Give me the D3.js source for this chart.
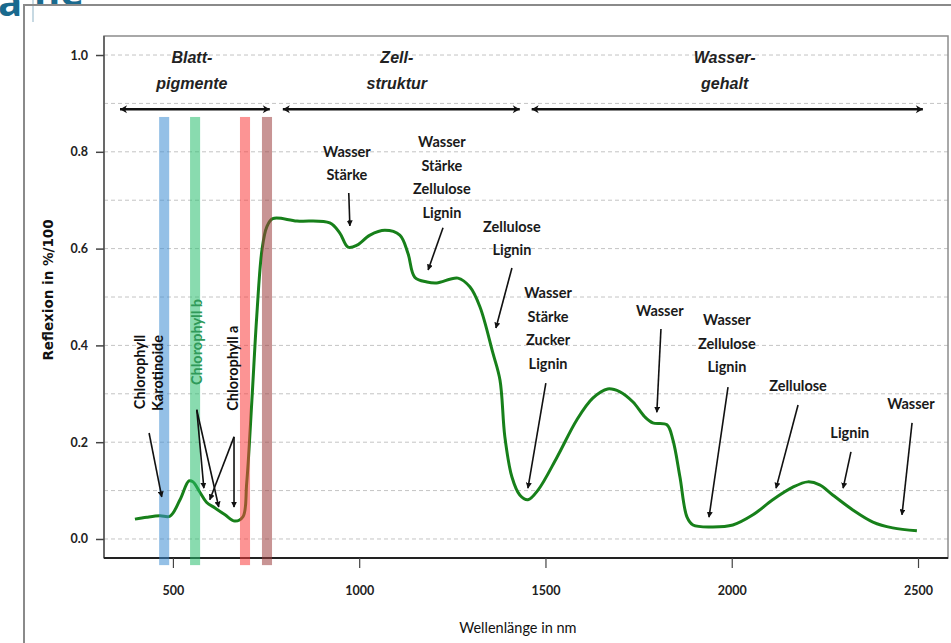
<!DOCTYPE html>
<html>
<head>
<meta charset="utf-8">
<script src="https://cdn.jsdelivr.net/npm/d3@7"></script>
<style>
    body { margin: 0; background: #fff; }
    svg { display: block; }
</style>
</head>
<body>
<div id="chart"></div>
<script>
// spectrum of a green leaf (nm, reflectance)
const wavelengths = [398, 430, 465, 492, 519, 543, 554, 572, 590, 613, 640, 666, 688, 698, 712, 725, 739, 752, 768,
    833, 921, 948, 970, 994, 1029, 1069, 1109, 1131, 1149, 1182, 1208, 1265, 1297, 1324, 1359, 1378, 1391, 1410,
    1431, 1453, 1480, 1531, 1584, 1627, 1667, 1700, 1735, 1767, 1788, 1826, 1842, 1861, 1880, 1896, 1949, 2003,
    2057, 2110, 2164, 2204, 2236, 2271, 2325, 2379, 2432, 2497];
const reflectance = [0.041, 0.045, 0.048, 0.047, 0.081, 0.12, 0.118, 0.097, 0.076, 0.064, 0.05, 0.037, 0.046, 0.115,
    0.287, 0.46, 0.597, 0.645, 0.662, 0.657, 0.653, 0.632, 0.603, 0.607, 0.628, 0.638, 0.628, 0.59, 0.541, 0.531,
    0.529, 0.539, 0.521, 0.48, 0.384, 0.328, 0.211, 0.128, 0.091, 0.081, 0.101, 0.169, 0.246, 0.291, 0.31, 0.304,
    0.283, 0.252, 0.24, 0.236, 0.205, 0.128, 0.045, 0.029, 0.025, 0.029, 0.05, 0.081, 0.107, 0.118, 0.112, 0.091,
    0.06, 0.035, 0.023, 0.017];

const yTicks = [0, 0.2, 0.4, 0.6, 0.8, 1.0];
const yGrid = [0, 0.1, 0.2, 0.3, 0.4, 0.5, 0.6, 0.7, 0.8, 0.9, 1.0];
const xTicks = [500, 1000, 1500, 2000, 2500];

// coloured absorption bands [from, to]
const bandRanges = [[463, 490], [546, 573], [680, 707], [739, 766]];
const bandColors = ["#3c8cd2", "#28be6e", "#fa3c3c", "#9b3c3c"];

// regions along the top
const regionRanges = [[358, 760], [795, 1431], [1463, 2513]];
const regionNames = [["Blatt-", "pigmente"], ["Zell-", "struktur"], ["Wasser-", "gehalt"]];
const regionCenters = [551, 1101, 1981];

// absorption annotations: text lines, label pos, arrow from/to
const noteTexts = [["Wasser", "Stärke"], ["Wasser", "Stärke", "Zellulose", "Lignin"], ["Zellulose", "Lignin"],
    ["Wasser", "Stärke", "Zucker", "Lignin"], ["Wasser"], ["Wasser", "Zellulose", "Lignin"], ["Zellulose"],
    ["Lignin"], ["Wasser"]];
const notePos = [[967, 0.80], [1222, 0.82], [1410, 0.645], [1507, 0.508], [1807, 0.471], [1987, 0.452],
    [2178, 0.316], [2317, 0.219], [2481, 0.279]];
const noteArrows = [[[972, 0.715], [975, 0.647]], [[1225, 0.643], [1185, 0.556]], [[1410, 0.56], [1367, 0.436]],
    [[1501, 0.322], [1453, 0.105]], [[1810, 0.434], [1799, 0.262]], [[1990, 0.314], [1939, 0.045]],
    [[2178, 0.277], [2119, 0.105]], [[2320, 0.18], [2299, 0.105]], [[2484, 0.24], [2457, 0.05]]];

// pigment labels (vertical text)
const pigmentTexts = ["Chlorophyll", "Karotinoide", "Chlorophyll b", "Chlorophyll a"];
const pigmentPos = [[411, 0.345], [460, 0.343], [564, 0.407], [661, 0.353]];
const pigmentColors = ["#111", "#111", "#2f9a5a", "#111"];
const pigmentArrows = [[[436, 0.219], [470, 0.087]], [[564, 0.267], [583, 0.105]], [[564, 0.267], [623, 0.066]],
    [[664, 0.211], [599, 0.081]], [[664, 0.211], [664, 0.066]]];

const W = 951, H = 643;
const margin = { top: 36, right: 3, bottom: 85, left: 104 },
    width = W - margin.left - margin.right,
    height = H - margin.top - margin.bottom;

let svg = d3.select("#chart")
    .append("svg")
    .attr("width", W)
    .attr("height", H);

// cropped page frame and header left over from the slide
svg.append("text")
    .attr("x", -2).attr("y", 16)
    .style("font", "bold 40px 'Open Sans'")
    .style("fill", "#1a6a8e")
    .text("a");
svg.append("text")
    .attr("x", 34).attr("y", 6)
    .style("font", "bold 40px 'Open Sans'")
    .style("fill", "#1a6a8e")
    .text("ne");
svg.append("line").attr("x1", 33).attr("x2", 33).attr("y1", 0).attr("y2", 22)
    .style("stroke", "#8fb3c6").style("stroke-width", 1);
svg.append("path")
    .attr("d", "M24,643 V5 H951")
    .style("fill", "none").style("stroke", "#8a8a8a").style("stroke-width", 2);

let defs = svg.append("defs");
defs.append("marker")
    .attr("id", "head")
    .attr("viewBox", "0 0 10 10")
    .attr("refX", 9).attr("refY", 5)
    .attr("markerWidth", 6).attr("markerHeight", 6)
    .attr("markerUnits", "userSpaceOnUse")
    .attr("orient", "auto")
    .append("path").attr("d", "M0,0 L10,5 L0,10 Z").style("fill", "#111");
defs.append("marker")
    .attr("id", "chev")
    .attr("viewBox", "0 0 10 10")
    .attr("refX", 9).attr("refY", 5)
    .attr("markerWidth", 10).attr("markerHeight", 10)
    .attr("markerUnits", "userSpaceOnUse")
    .attr("orient", "auto-start-reverse")
    .append("path").attr("d", "M2,1 L9,5 L2,9 L4,5 Z").style("fill", "#111");

let group = svg.append("g")
    .attr("transform", "translate(" + margin.left + "," + margin.top + ")");

var x = d3.scaleLinear().domain([315, 2580.5]).range([0, width]);
var y = d3.scaleLinear().domain([-0.0393, 1.0393]).range([height, 0]);

// dashed grid
group.selectAll(".grid")
    .data(yGrid)
    .join("line")
    .attr("class", "grid")
    .attr("x1", 0).attr("x2", width)
    .attr("y1", d => y(d)).attr("y2", d => y(d))
    .style("stroke", "#c4c4c4")
    .style("stroke-dasharray", "4,3");

// plot frame
group.append("rect")
    .attr("width", width).attr("height", height)
    .style("fill", "none").style("stroke", "#8c8c8c").style("stroke-width", 1.5);

const yAxis = d3.axisLeft(y).tickValues(yTicks).tickSize(8).tickPadding(8).tickFormat(d3.format(".1f"));
const xAxis = d3.axisBottom(x).tickValues(xTicks).tickSize(10).tickPadding(18).tickFormat(d3.format("d"));

let yDisplay = group.append("g").attr("class", "axis y-axis").call(yAxis);
let xDisplay = group.append("g").attr("class", "axis x-axis")
    .attr("transform", `translate(0, ${height})`).call(xAxis);

yDisplay.select(".domain").attr("d", `M0,0V${height}`).style("stroke", "#555").style("stroke-width", 1.5);
xDisplay.select(".domain").attr("d", `M0,0H${width}`).style("stroke", "#222").style("stroke-width", 2);
yDisplay.selectAll(".tick line").style("stroke", "#444").style("stroke-width", 1.5);
xDisplay.selectAll(".tick line").style("stroke", "#444").style("stroke-width", 1.2);
group.selectAll(".axis text")
    .style("font-family", "Lato, 'Open Sans', sans-serif")
    .style("font-weight", "bold")
    .style("font-size", "12.5px")
    .style("fill", "#222");

// the spectrum
let line = d3.line()
    .x((d, i) => x(wavelengths[i]))
    .y(d => y(d))
    .curve(d3.curveCatmullRom.alpha(0.5));

group.append("path")
    .datum(reflectance)
    .attr("d", line)
    .style("fill", "none")
    .style("stroke", "#17801a")
    .style("stroke-width", 3)
    .style("stroke-linejoin", "round");

// transparent bands over the curve
group.selectAll(".band")
    .data(bandRanges)
    .join("rect")
    .attr("class", "band")
    .attr("x", d => x(d[0]))
    .attr("width", d => x(d[1]) - x(d[0]))
    .attr("y", y(0.872))
    .attr("height", y(-0.054) - y(0.872))
    .style("fill", (d, i) => bandColors[i])
    .style("opacity", 0.55);

// region arrows + titles
group.selectAll(".region")
    .data(regionRanges)
    .join("line")
    .attr("class", "region")
    .attr("x1", d => x(d[0])).attr("x2", d => x(d[1]))
    .attr("y1", y(0.888)).attr("y2", y(0.888))
    .style("stroke", "#111").style("stroke-width", 2.5)
    .attr("marker-start", "url(#chev)")
    .attr("marker-end", "url(#chev)");

regionNames.forEach((lines, i) => {
    lines.forEach((t, j) => {
        group.append("text")
            .attr("x", x(regionCenters[i]))
            .attr("y", y(j === 0 ? 0.983 : 0.93))
            .attr("text-anchor", "middle")
            .style("font", "italic bold 16px 'Liberation Sans', Arial, sans-serif")
            .style("fill", "#222")
            .text(t);
    });
});

// annotation labels
noteTexts.forEach((lines, i) => {
    lines.forEach((t, j) => {
        group.append("text")
            .attr("x", x(notePos[i][0]))
            .attr("y", y(notePos[i][1]) + j * 23.5)
            .attr("dy", "0.35em")
            .attr("text-anchor", "middle")
            .style("font", "bold 14.5px Lato, sans-serif")
            .style("fill", "#1a1a1a")
            .text(t);
    });
});

group.selectAll(".note-arrow")
    .data(noteArrows.concat(pigmentArrows))
    .join("line")
    .attr("class", "note-arrow")
    .attr("x1", d => x(d[0][0])).attr("y1", d => y(d[0][1]))
    .attr("x2", d => x(d[1][0])).attr("y2", d => y(d[1][1]))
    .style("stroke", "#111").style("stroke-width", 1.6)
    .attr("marker-end", "url(#head)");

group.selectAll(".pigment")
    .data(pigmentTexts)
    .join("text")
    .attr("class", "pigment")
    .attr("transform", (d, i) => `translate(${x(pigmentPos[i][0])},${y(pigmentPos[i][1])}) rotate(-90)`)
    .attr("dy", "0.35em")
    .attr("text-anchor", "middle")
    .style("font", "bold 14.5px Lato, sans-serif")
    .style("fill", (d, i) => pigmentColors[i])
    .text(d => d);

// axis titles
group.append("text")
    .attr("x", x(1426))
    .attr("y", height + 70)
    .attr("dy", "0.35em")
    .attr("text-anchor", "middle")
    .style("font", "14.5px Lato, sans-serif")
    .style("fill", "#111")
    .text("Wellenlänge in nm");

svg.append("text")
    .attr("transform", "translate(48," + 290 + ") rotate(-90)")
    .attr("dy", "0.35em")
    .attr("text-anchor", "middle")
    .style("font", "bold 13.5px 'DejaVu Sans', Verdana, sans-serif")
    .style("fill", "#111")
    .text("Reflexion in %/100");
</script>
</body>
</html>
